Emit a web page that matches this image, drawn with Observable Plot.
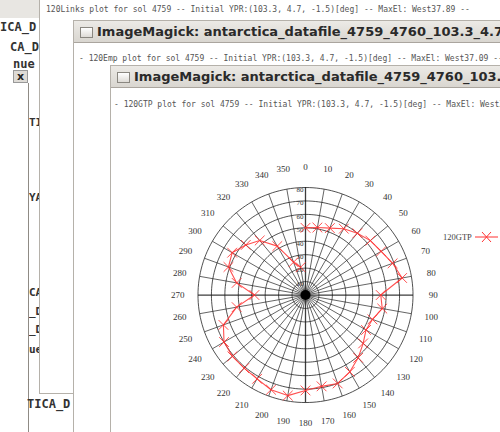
<!DOCTYPE html>
<html><head><meta charset="utf-8">
<script src="https://cdn.jsdelivr.net/npm/d3@7"></script>
<script src="https://cdn.jsdelivr.net/npm/@observablehq/plot@0.6"></script>
<style>
html,body{margin:0;padding:0}
body{width:500px;height:432px;overflow:hidden;position:relative;background:#fff;font-family:"DejaVu Sans",sans-serif}
.a{position:absolute;box-sizing:border-box}
.frag{position:absolute;font-family:"DejaVu Sans Mono",monospace;font-weight:bold;font-size:12px;color:#333;white-space:nowrap;line-height:1}
.win{position:absolute;background:#fff;border-left:1px solid #b5b1aa;border-top:1px solid #b5b1aa;overflow:hidden}
.bar{position:absolute;left:0;right:0;top:0;height:21px;background:linear-gradient(#eceae6,#d9d6d0);border-bottom:1px solid #aaa59e}
.icon{position:absolute;left:6px;top:6px;width:11px;height:9px;border:1px solid #8a8780;background:linear-gradient(#fff,#dedbd6)}
.ttl{position:absolute;left:23px;top:3px;font-weight:bold;font-size:13px;color:#2a2a2a;white-space:nowrap}
.line{position:absolute;font-family:"DejaVu Sans Mono",monospace;font-size:8px;color:#555;white-space:nowrap;line-height:1}
</style></head><body>
<div class="a" style="left:0;top:0;width:39px;height:18px;background:#e8e6e2"></div>
<div class="a" style="left:0;top:18px;width:39px;height:52px;overflow:hidden">
  <div class="frag" style="left:0;top:3px">ICA_D</div>
  <div class="frag" style="left:10px;top:23px">CA_D</div>
  <div class="frag" style="left:13px;top:40px">nue</div>
</div>
<div class="a" style="left:13px;top:70px;width:15px;height:13px;background:#dedbd6;border:1px solid #999;font-weight:bold;font-size:11px;line-height:11px;text-align:center;color:#222">x</div>
<div class="a" style="left:28px;top:83px;width:1px;height:349px;background:#8f8b85"></div>
<div class="a" style="left:29px;top:100px;width:10px;height:292px;overflow:hidden">
  <div class="frag" style="left:0;top:17px;font-size:11px">TI</div>
  <div class="frag" style="left:0;top:92px;font-size:11px">YA</div>
  <div class="frag" style="left:0;top:187px;font-size:11px">CA</div>
  <div class="frag" style="left:0;top:206px;font-size:11px">_D</div>
  <div class="frag" style="left:0;top:224px;font-size:11px">_D</div>
  <div class="frag" style="left:0;top:244px;font-size:11px">ue</div>
</div>
<div class="a" style="left:27px;top:393px;width:46px;height:39px;overflow:hidden">
  <div class="frag" style="left:0;top:5px">TICA_D</div>
</div>

<div class="win" style="left:39px;top:0;width:461px;height:393px;border-top:none;border-bottom:1px solid #b5b1aa">
  <div class="line" style="left:6px;top:6px">120Links plot for sol 4759 -- Initial YPR:(103.3, 4.7, -1.5)[deg]  -- MaxEl: West37.89 --</div>
</div>

<div class="win" style="left:73px;top:20px;width:427px;height:412px">
  <div class="bar"><div class="icon"></div><div class="ttl">ImageMagick: antarctica_datafile_4759_4760_103.3_4.7</div></div>
  <div class="line" style="left:5px;top:34px">- 120Emp plot for sol 4759 -- Initial YPR:(103.3, 4.7, -1.5)[deg]  -- MaxEl: West37.09 --</div>
</div>

<div class="win" style="left:110px;top:65px;width:390px;height:367px">
  <div class="bar"><div class="icon"></div><div class="ttl">ImageMagick: antarctica_datafile_4759_4760_103.3_4.7</div></div>
  <div class="line" style="left:3px;top:35px">- 120GTP plot for sol 4759 -- Initial YPR:(103.3, 4.7, -1.5)[deg]  -- MaxEl: West37.89 --</div>
</div>

<div id="chart" class="a" style="left:111px;top:108px"></div>

<div class="a" style="left:443px;top:232px;font-family:'Liberation Serif',serif;font-size:8.5px;color:#444;line-height:10px" id="legtxt"></div>
<svg class="a" style="left:474px;top:230px" width="26" height="14">
  <line x1="1" y1="7" x2="24" y2="7" stroke="#ff3333" stroke-width="1"/>
  <line x1="8" y1="2" x2="17" y2="12" stroke="#ff3333" stroke-width="1"/>
  <line x1="8" y1="12" x2="17" y2="2" stroke="#ff3333" stroke-width="1"/>
</svg>

<script>
// ---- data ----
const angles = [0,10,20,30,40,50,60,70,80,90,100,110,120,130,140,150,160,170,180,190,200,210,220,230,240,250,260,270,280,290,300,310,320,330,340,350];
const values = [50,51,53,57,60,63,65,69,73,56,58,53,52,56,61,66,70,69,71,76,75,72,71,71,70,65,52,38,52,61,63,58,53,42,26,21];
const ringTicks = [10,20,30,40,50,60,70,80];
const angleTicks = [0,10,20,30,40,50,60,70,80,90,100,110,120,130,140,150,160,170,180,190,200,210,220,230,240,250,260,270,280,290,300,310,320,330,340,350];
const angleLabels = ["0","10","20","30","40","50","60","70","80","90","100","110","120","130","140","150","160","170","180","190","200","210","220","230","240","250","260","270","280","290","300","310","320","330","340","350"];
const seriesName = "120GTP";

document.getElementById("legtxt").textContent = seriesName;

const rad = d => d * Math.PI / 180;
const rMax = 80;
const labelR = 95;

const pts = angles.map((a, i) => ({a, r: values[i]}));
const ringPts = ringTicks.flatMap(r => d3.range(0, 361, 2).map(a => ({ring: r, a})));
const spokes = angleTicks.map((a, i) => ({a, label: angleLabels[i]}));

const chart = Plot.plot({
  width: 389, height: 324,
  margin: 0,
  x: {domain: [-144.35, 145.1], axis: null},
  y: {domain: [-102.3, 138.8], axis: null},
  style: {background: "transparent", overflow: "visible"},
  marks: [
    Plot.line(ringPts, {x: d => d.ring * Math.sin(rad(d.a)), y: d => d.ring * Math.cos(rad(d.a)), z: "ring", stroke: "#1a1a1a", strokeWidth: 0.9, strokeOpacity: 0.85}),
    Plot.link(spokes, {x1: () => 0, y1: () => 0, x2: d => rMax * Math.sin(rad(d.a)), y2: d => rMax * Math.cos(rad(d.a)), stroke: "#1a1a1a", strokeWidth: d => d.a % 90 === 0 ? 1.3 : 0.8, strokeOpacity: 0.85}),
    Plot.dot([0], {x: () => 0, y: () => 0, r: 5, fill: "#000"}),
    Plot.text(ringTicks, {x: () => 0, y: d => d, dx: -2, dy: 2, textAnchor: "end", text: d => String(d), fontSize: 7, fill: "#333", fontFamily: "Liberation Serif, serif"}),
    Plot.line(pts, {x: d => d.r * Math.sin(rad(d.a)), y: d => d.r * Math.cos(rad(d.a)), stroke: "#ff3030", strokeWidth: 1.1, strokeOpacity: 0.85}),
    Plot.dot(pts, {x: d => d.r * Math.sin(rad(d.a)), y: d => d.r * Math.cos(rad(d.a)), symbol: "times", r: 4.5, stroke: "#ff3030", strokeWidth: 1, strokeOpacity: 0.85}),
    Plot.text(spokes, {x: d => labelR * Math.sin(rad(d.a)), y: d => labelR * Math.cos(rad(d.a)), text: "label", fontSize: 9, fill: "#333", fontFamily: "Liberation Serif, serif"})
  ]
});
document.getElementById("chart").appendChild(chart);
</script>
</body></html>
